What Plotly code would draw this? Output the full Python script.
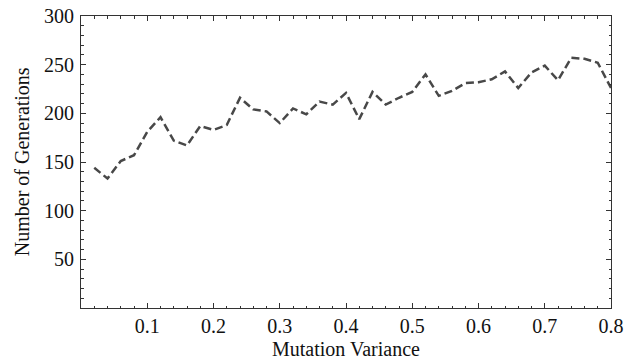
import plotly.graph_objects as go

mutation_variance = [round(0.02 * k, 2) for k in range(1, 41)]
generations = [144, 133, 151, 157, 181, 196, 172, 167, 187, 183,
               188, 216, 204, 202, 190, 205, 199, 212, 209, 221,
               194, 222, 209, 216, 222, 240, 218, 223, 231, 232,
               235, 243, 226, 242, 249, 234, 257, 256, 252, 226]

x_ticks = [0.1, 0.2, 0.3, 0.4, 0.5, 0.6, 0.7, 0.8]
y_ticks = [50, 100, 150, 200, 250, 300]
x_title = "Mutation Variance"
y_title = "Number of Generations"

fig = go.Figure()
fig.add_trace(go.Scatter(
    x=mutation_variance, y=generations, mode="lines",
    line=dict(color="#484848", width=2.5, dash="8px,4px"),
    showlegend=False, hoverinfo="skip",
))

font = dict(family="Liberation Serif, Times New Roman, serif", size=20, color="#111")
axis_common = dict(
    showgrid=False, zeroline=False, showline=True, linecolor="#333", linewidth=1,
    mirror="ticks", ticks="inside", ticklen=5, tickcolor="#333", tickwidth=1,
    tickfont=font, automargin=False,
)
fig.update_xaxes(
    range=[0, 0.8], tickvals=x_ticks, ticktext=[f"{v:.1f}" for v in x_ticks],
    ticklabelstandoff=0,
    minor=dict(ticks="inside", ticklen=2.5, dtick=0.02, tick0=0, tickcolor="#333"),
    **axis_common,
)
fig.update_yaxes(
    range=[0, 300], tickvals=y_ticks, ticktext=[str(v) for v in y_ticks],
    ticklabelstandoff=2,
    minor=dict(ticks="inside", ticklen=2.5, dtick=10, tick0=0, tickcolor="#333"),
    **axis_common,
)
fig.add_annotation(text=x_title, xref="paper", yref="paper", x=0.5, y=-0.1387,
                   xanchor="center", yanchor="middle", showarrow=False, font=font)
fig.add_annotation(text=y_title, xref="paper", yref="paper", x=-0.111, y=0.5,
                   textangle=-90, xanchor="center", yanchor="middle",
                   showarrow=False, font=font)
fig.update_layout(
    width=634, height=360,
    margin=dict(l=81, r=23, t=16, b=52),
    paper_bgcolor="white", plot_bgcolor="white",
    font=font,
)
fig.write_html("out.html")
